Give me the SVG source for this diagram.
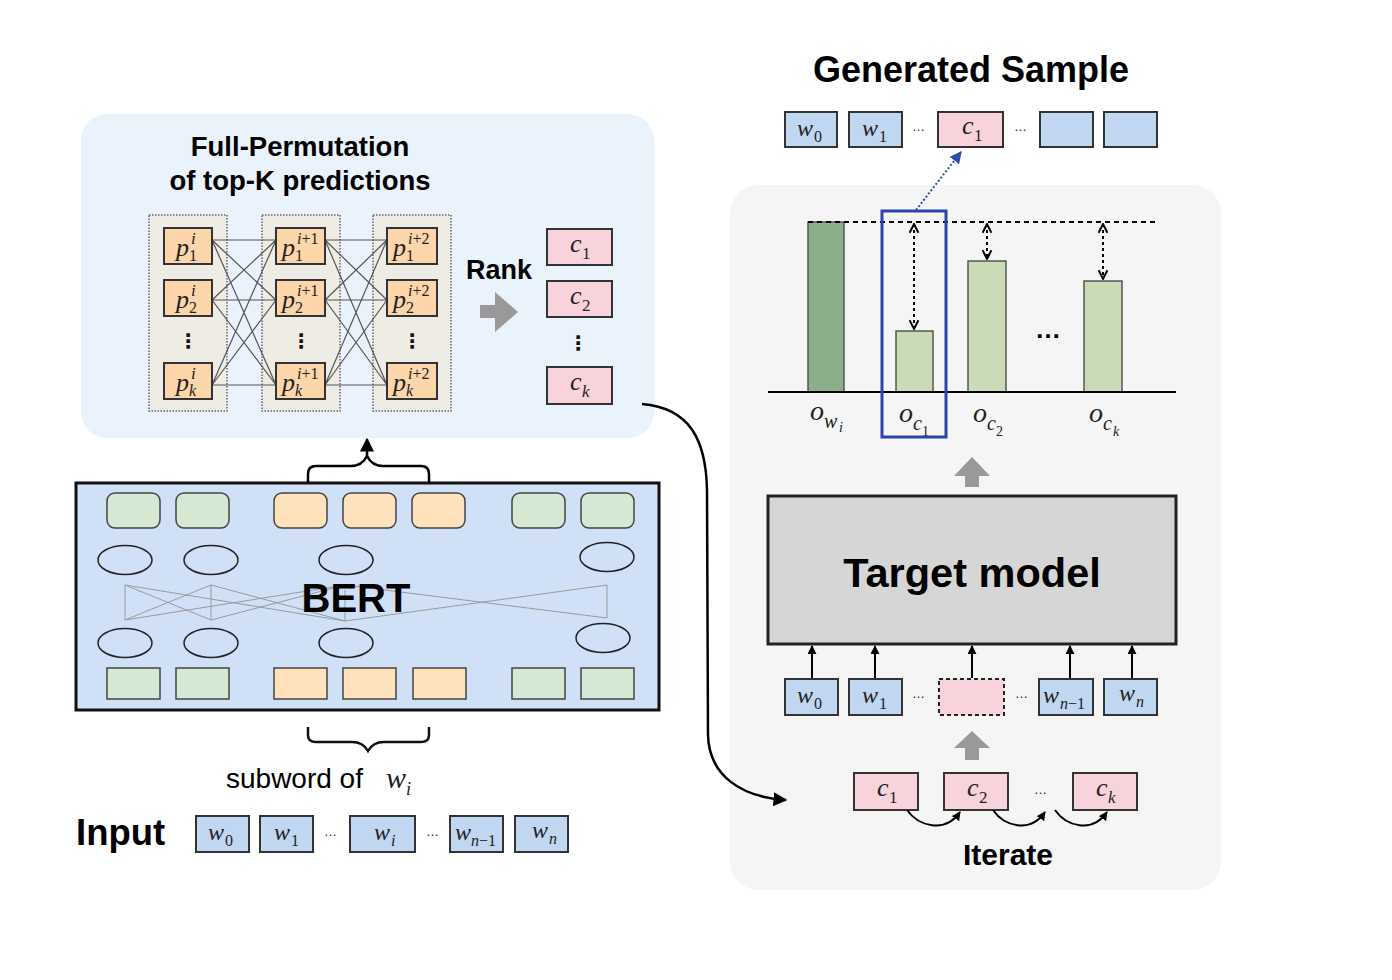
<svg xmlns="http://www.w3.org/2000/svg" width="1392" height="980" viewBox="0 0 1392 980">
<defs>
<style>
.t{font-family:"Liberation Sans",Arial,sans-serif;font-weight:bold;fill:#000}
.r{font-family:"Liberation Sans",Arial,sans-serif;fill:#000}
.m{font-family:"Liberation Serif","Times New Roman",serif;font-style:italic;fill:#222}
.n{font-family:"Liberation Serif","Times New Roman",serif;font-style:normal;fill:#222}
.vd{font-family:"DejaVu Sans",sans-serif;font-weight:bold;font-size:20px;fill:#111}
.el{font-family:"Liberation Sans",Arial,sans-serif;font-size:13px;fill:#222}
.col{fill:#EFEBE5;stroke:#666;stroke-width:1.5;stroke-dasharray:1.5 1.5}
.pb{fill:#FCD6AA;stroke:#333;stroke-width:2}
.cb{fill:#F9D3DB;stroke:#333;stroke-width:2}
.wb{fill:#C1D6F0;stroke:#333;stroke-width:2}
.gr{fill:#D5E8D4;stroke:#444;stroke-width:1.5}
.or{fill:#FFE1BC;stroke:#444;stroke-width:1.5}
.ell{fill:none;stroke:#222;stroke-width:1.5}
.pl{stroke:#555;stroke-width:1.2;fill:none}
.bl{stroke:#9a9a9a;stroke-width:1;fill:none}
.bar{fill:#C9DCB7;stroke:#555;stroke-width:1.5}
.ga{fill:#999}
</style>
<marker id="ah" viewBox="0 0 10 10" refX="9" refY="5" markerWidth="14" markerHeight="14" markerUnits="userSpaceOnUse" orient="auto"><path d="M0,0 L10,5 L0,10 z" fill="#000"/></marker>
<marker id="ahs" viewBox="0 0 10 10" refX="9" refY="5" markerWidth="9" markerHeight="9" markerUnits="userSpaceOnUse" orient="auto"><path d="M0,0 L10,5 L0,10 z" fill="#000"/></marker>
<marker id="chev" viewBox="0 0 10 10" refX="9" refY="5" markerWidth="11" markerHeight="11" markerUnits="userSpaceOnUse" orient="auto-start-reverse"><path d="M1,1 L9,5 L1,9" fill="none" stroke="#000" stroke-width="1.8"/></marker>
<marker id="ahb" viewBox="0 0 10 10" refX="9" refY="5" markerWidth="12" markerHeight="12" markerUnits="userSpaceOnUse" orient="auto"><path d="M0,0 L10,5 L0,10 z" fill="#2E4FB0"/></marker>
</defs>
<rect width="1392" height="980" fill="#fff"/>

<!-- panels -->
<g id="panel-permutation">
<rect x="81" y="114" width="573" height="324" rx="26" fill="#EAF2FB"/>
<text class="t" x="300" y="156" font-size="27.5" text-anchor="middle">Full-Permutation</text>
<text class="t" x="300" y="190" font-size="27.5" text-anchor="middle">of top-K predictions</text>
</g>
<g id="panel-target">
<rect x="730" y="185" width="491" height="705" rx="28" fill="#F5F5F5"/>
</g>

<!-- permutation columns -->
<g id="perm-columns">
<rect class="col" x="149" y="215" width="78" height="196"/>
<rect class="col" x="262" y="215" width="78" height="196"/>
<rect class="col" x="373" y="215" width="78" height="196"/>
</g>
<g id="perm-lines">
<path class="pl" d="M212,240 L276,240 M212,240 L276,300 M212,240 L276,385 M212,300 L276,240 M212,300 L276,300 M212,300 L276,385 M212,385 L276,240 M212,385 L276,300 M212,385 L276,385"/>
<path class="pl" d="M325,240 L387,240 M325,240 L387,300 M325,240 L387,385 M325,300 L387,240 M325,300 L387,300 M325,300 L387,385 M325,385 L387,240 M325,385 L387,300 M325,385 L387,385"/>
</g>
<g id="perm-col-i">
<rect class="pb" x="164" y="228" width="48" height="36"/>
<text class="m" x="176" y="256" font-size="26">p</text><text class="m" x="191" y="244" font-size="17">i</text><text class="n" x="189" y="261" font-size="16">1</text>
<rect class="pb" x="164" y="280" width="48" height="36"/>
<text class="m" x="176" y="308" font-size="26">p</text><text class="m" x="191" y="296" font-size="17">i</text><text class="n" x="189" y="313" font-size="16">2</text>
<text class="vd" x="188" y="348" text-anchor="middle">⋮</text>
<rect class="pb" x="164" y="363" width="48" height="36"/>
<text class="m" x="176" y="391" font-size="26">p</text><text class="m" x="191" y="379" font-size="17">i</text><text class="m" x="189" y="396" font-size="16">k</text>
</g>
<g id="perm-col-i1">
<rect class="pb" x="276" y="228" width="49" height="36"/>
<text class="m" x="282" y="256" font-size="26">p</text><text class="m" x="297" y="244" font-size="16">i<tspan class="n">+1</tspan></text><text class="n" x="295" y="261" font-size="16">1</text>
<rect class="pb" x="276" y="280" width="49" height="36"/>
<text class="m" x="282" y="308" font-size="26">p</text><text class="m" x="297" y="296" font-size="16">i<tspan class="n">+1</tspan></text><text class="n" x="295" y="313" font-size="16">2</text>
<text class="vd" x="301" y="348" text-anchor="middle">⋮</text>
<rect class="pb" x="276" y="363" width="49" height="36"/>
<text class="m" x="282" y="391" font-size="26">p</text><text class="m" x="297" y="379" font-size="16">i<tspan class="n">+1</tspan></text><text class="m" x="295" y="396" font-size="16">k</text>
</g>
<g id="perm-col-i2">
<rect class="pb" x="387" y="228" width="50" height="36"/>
<text class="m" x="393" y="256" font-size="26">p</text><text class="m" x="408" y="244" font-size="16">i<tspan class="n">+2</tspan></text><text class="n" x="406" y="261" font-size="16">1</text>
<rect class="pb" x="387" y="280" width="50" height="36"/>
<text class="m" x="393" y="308" font-size="26">p</text><text class="m" x="408" y="296" font-size="16">i<tspan class="n">+2</tspan></text><text class="n" x="406" y="313" font-size="16">2</text>
<text class="vd" x="412" y="348" text-anchor="middle">⋮</text>
<rect class="pb" x="387" y="363" width="50" height="36"/>
<text class="m" x="393" y="391" font-size="26">p</text><text class="m" x="408" y="379" font-size="16">i<tspan class="n">+2</tspan></text><text class="m" x="406" y="396" font-size="16">k</text>
</g>

<g id="rank">
<text class="t" x="466" y="279" font-size="27">Rank</text>
<polygon class="ga" points="480,305 495,305 495,292 518,312 495,332 495,318 480,318"/>
</g>
<g id="ranked-candidates">
<rect class="cb" x="547" y="229" width="65" height="36"/>
<text class="m" x="570" y="252" font-size="26">c</text><text class="n" x="582" y="259" font-size="17">1</text>
<rect class="cb" x="547" y="281" width="65" height="36"/>
<text class="m" x="570" y="304" font-size="26">c</text><text class="n" x="582" y="311" font-size="17">2</text>
<text class="vd" x="578" y="350" text-anchor="middle">⋮</text>
<rect class="cb" x="547" y="367" width="65" height="37"/>
<text class="m" x="570" y="390" font-size="26">c</text><text class="m" x="582" y="397" font-size="17">k</text>
</g>

<!-- BERT -->
<g id="bert">
<rect x="76" y="483" width="583" height="227" fill="#D0E0F6" stroke="#111" stroke-width="3"/>
<rect class="gr" x="107" y="493" width="53" height="35" rx="8"/>
<rect class="gr" x="176" y="493" width="53" height="35" rx="8"/>
<rect class="or" x="274" y="493" width="53" height="35" rx="8"/>
<rect class="or" x="343" y="493" width="53" height="35" rx="8"/>
<rect class="or" x="412" y="493" width="53" height="35" rx="8"/>
<rect class="gr" x="512" y="493" width="53" height="35" rx="8"/>
<rect class="gr" x="581" y="493" width="53" height="35" rx="8"/>
<ellipse class="ell" cx="125" cy="560" rx="27" ry="14.5"/>
<ellipse class="ell" cx="211" cy="560" rx="27" ry="14.5"/>
<ellipse class="ell" cx="346" cy="560" rx="27" ry="14.5"/>
<ellipse class="ell" cx="607" cy="557" rx="27" ry="14.5"/>
<path class="bl" d="M125,585 L125,620 M211,585 L211,620 M607,585 L607,618 M345,590 L345,621 M125,585 L211,620 M211,585 L125,620 M125,585 L345,621 M125,620 L345,585 M211,585 L345,621 M211,620 L345,585 M345,585 L607,618 M345,621 L607,585"/>
<ellipse class="ell" cx="125" cy="643" rx="27" ry="14.5"/>
<ellipse class="ell" cx="211" cy="643" rx="27" ry="14.5"/>
<ellipse class="ell" cx="346" cy="643" rx="27" ry="14.5"/>
<ellipse class="ell" cx="603" cy="638" rx="27" ry="14.5"/>
<text class="t" x="356" y="612" font-size="40" text-anchor="middle">BERT</text>
<rect class="gr" x="107" y="668" width="53" height="31"/>
<rect class="gr" x="176" y="668" width="53" height="31"/>
<rect class="or" x="274" y="668" width="53" height="31"/>
<rect class="or" x="343" y="668" width="53" height="31"/>
<rect class="or" x="413" y="668" width="53" height="31"/>
<rect class="gr" x="512" y="668" width="53" height="31"/>
<rect class="gr" x="581" y="668" width="53" height="31"/>
</g>

<g id="subword">
<path d="M308,727 L308,735 Q308,742 316,742 L352,742 Q363,742 368,751 Q373,742 384,742 L421,742 Q429,742 429,735 L429,727" fill="none" stroke="#111" stroke-width="2.5"/>
<text class="r" x="226" y="788" font-size="28">subword of</text>
<text class="m" x="386" y="788" font-size="30">w</text><text class="m" x="406" y="795" font-size="18">i</text>
</g>

<g id="input">
<text class="t" x="76" y="845" font-size="36.5">Input</text>
<rect class="wb" x="196" y="816" width="53" height="36"/>
<text class="m" x="208" y="840" font-size="24">w</text><text class="n" x="225" y="846" font-size="16">0</text>
<rect class="wb" x="260" y="816" width="53" height="36"/>
<text class="m" x="274" y="840" font-size="24">w</text><text class="n" x="291" y="846" font-size="16">1</text>
<text class="el" x="324" y="836">…</text>
<rect class="wb" x="350" y="816" width="65" height="36"/>
<text class="m" x="374" y="840" font-size="24">w</text><text class="m" x="391" y="846" font-size="16">i</text>
<text class="el" x="426" y="836">…</text>
<rect class="wb" x="450" y="816" width="53" height="36"/>
<text class="m" x="455" y="840" font-size="24">w</text><text class="m" x="471" y="846" font-size="16">n<tspan class="n">−1</tspan></text>
<rect class="wb" x="515" y="816" width="53" height="36"/>
<text class="m" x="532" y="838" font-size="24">w</text><text class="m" x="549" y="844" font-size="16">n</text>
</g>

<!-- Generated sample -->
<g id="generated-sample">
<text class="t" x="971" y="82" font-size="36" text-anchor="middle">Generated Sample</text>
<rect class="wb" x="785" y="112" width="52" height="35"/>
<text class="m" x="797" y="136" font-size="24">w</text><text class="n" x="814" y="142" font-size="16">0</text>
<rect class="wb" x="849" y="112" width="53" height="35"/>
<text class="m" x="862" y="136" font-size="24">w</text><text class="n" x="879" y="142" font-size="16">1</text>
<text class="el" x="912" y="131">…</text>
<rect class="cb" x="938" y="112" width="65" height="35"/>
<text class="m" x="962" y="134" font-size="26">c</text><text class="n" x="974" y="141" font-size="17">1</text>
<text class="el" x="1014" y="131">…</text>
<rect class="wb" x="1040" y="112" width="53" height="35"/>
<rect class="wb" x="1104" y="112" width="53" height="35"/>
</g>

<!-- chart -->
<g id="chart">
<rect x="808" y="222" width="36" height="170" fill="#8AAF8A" stroke="#555" stroke-width="1.5"/>
<rect class="bar" x="896" y="331" width="37" height="61"/>
<rect class="bar" x="968" y="261" width="38" height="131"/>
<rect class="bar" x="1084" y="281" width="38" height="111"/>
<line x1="808" y1="222" x2="1157" y2="222" stroke="#000" stroke-width="2" stroke-dasharray="5 4"/>
<line x1="768" y1="392" x2="1176" y2="392" stroke="#000" stroke-width="2"/>
<line x1="914" y1="224" x2="914" y2="329" stroke="#000" stroke-width="2" stroke-dasharray="3 3" marker-start="url(#chev)" marker-end="url(#chev)"/>
<line x1="987" y1="224" x2="987" y2="259" stroke="#000" stroke-width="2" stroke-dasharray="3 3" marker-start="url(#chev)" marker-end="url(#chev)"/>
<line x1="1103" y1="224" x2="1103" y2="279" stroke="#000" stroke-width="2" stroke-dasharray="3 3" marker-start="url(#chev)" marker-end="url(#chev)"/>
<text class="t" x="1048" y="338" font-size="26" text-anchor="middle">…</text>
<text class="m" x="810" y="420" font-size="28">o</text><text class="m" x="824" y="428" font-size="20">w</text><text class="m" x="839" y="432" font-size="14">i</text>
<text class="m" x="899" y="422" font-size="28">o</text><text class="m" x="913" y="430" font-size="20">c</text><text class="n" x="922" y="436" font-size="14">1</text>
<text class="m" x="973" y="422" font-size="28">o</text><text class="m" x="987" y="430" font-size="20">c</text><text class="n" x="996" y="436" font-size="14">2</text>
<text class="m" x="1089" y="422" font-size="28">o</text><text class="m" x="1103" y="430" font-size="20">c</text><text class="m" x="1113" y="436" font-size="14">k</text>
<rect x="882" y="211" width="64" height="226" fill="none" stroke="#2D44A8" stroke-width="3"/>
</g>

<g id="target-model">
<polygon class="ga" points="972,457 990,476 979,476 979,487 965,487 965,476 954,476"/>
<rect x="768" y="496" width="408" height="148" fill="#D6D6D6" stroke="#222" stroke-width="3"/>
<text class="t" x="972" y="587" font-size="41.5" text-anchor="middle">Target model</text>
</g>

<g id="target-inputs">
<rect class="wb" x="785" y="679" width="53" height="36"/>
<text class="m" x="797" y="703" font-size="24">w</text><text class="n" x="814" y="709" font-size="16">0</text>
<rect class="wb" x="849" y="679" width="53" height="36"/>
<text class="m" x="862" y="703" font-size="24">w</text><text class="n" x="879" y="709" font-size="16">1</text>
<text class="el" x="912" y="698">…</text>
<rect x="939" y="679" width="65" height="36" fill="#F9D3DB" stroke="#222" stroke-width="2" stroke-dasharray="4 3"/>
<text class="el" x="1015" y="698">…</text>
<rect class="wb" x="1039" y="679" width="54" height="36"/>
<text class="m" x="1043" y="703" font-size="24">w</text><text class="m" x="1060" y="709" font-size="16">n<tspan class="n">−1</tspan></text>
<rect class="wb" x="1104" y="679" width="53" height="36"/>
<text class="m" x="1119" y="701" font-size="24">w</text><text class="m" x="1136" y="707" font-size="16">n</text>
</g>

<g id="iterate">
<polygon class="ga" points="972,731 990,748 979,748 979,760 965,760 965,748 954,748"/>
<rect class="cb" x="854" y="773" width="64" height="37"/>
<text class="m" x="877" y="796" font-size="26">c</text><text class="n" x="889" y="803" font-size="17">1</text>
<rect class="cb" x="944" y="773" width="64" height="37"/>
<text class="m" x="967" y="796" font-size="26">c</text><text class="n" x="979" y="803" font-size="17">2</text>
<text class="el" x="1034" y="794">…</text>
<rect class="cb" x="1073" y="773" width="64" height="37"/>
<text class="m" x="1096" y="796" font-size="26">c</text><text class="m" x="1108" y="803" font-size="17">k</text>
<text class="t" x="1008" y="865" font-size="30" text-anchor="middle">Iterate</text>
</g>

<!-- connectors -->
<g id="connectors" fill="none" stroke="#000">
<path d="M308,483 L308,474 Q308,466 316,466 L351,466 Q362,466 367,456 Q372,466 383,466 L421,466 Q429,466 429,474 L429,483" stroke-width="2.5"/>
<line x1="367" y1="458" x2="367" y2="439" stroke-width="2.5" marker-end="url(#ah)"/>
<path d="M642,404 C690,408 706,440 707,490 L708,735 C709,775 740,797 786,800" stroke-width="2.5" marker-end="url(#ah)"/>
<line x1="916" y1="210" x2="961" y2="152" stroke="#2E4FB0" stroke-width="2" stroke-dasharray="2 2" marker-end="url(#ahb)"/>
<line x1="812" y1="678" x2="812" y2="646" stroke-width="2" marker-end="url(#ahs)"/>
<line x1="875" y1="678" x2="875" y2="646" stroke-width="2" marker-end="url(#ahs)"/>
<line x1="972" y1="678" x2="972" y2="646" stroke-width="2" marker-end="url(#ahs)"/>
<line x1="1070" y1="678" x2="1070" y2="646" stroke-width="2" marker-end="url(#ahs)"/>
<line x1="1132" y1="678" x2="1132" y2="646" stroke-width="2" marker-end="url(#ahs)"/>
<path d="M907,810 C918,826 945,834 960,812" stroke-width="2" marker-end="url(#ahs)"/>
<path d="M993,810 C1004,826 1030,834 1045,812" stroke-width="2" marker-end="url(#ahs)"/>
<path d="M1055,810 C1066,826 1092,834 1107,812" stroke-width="2" marker-end="url(#ahs)"/>
</g>
</svg>
